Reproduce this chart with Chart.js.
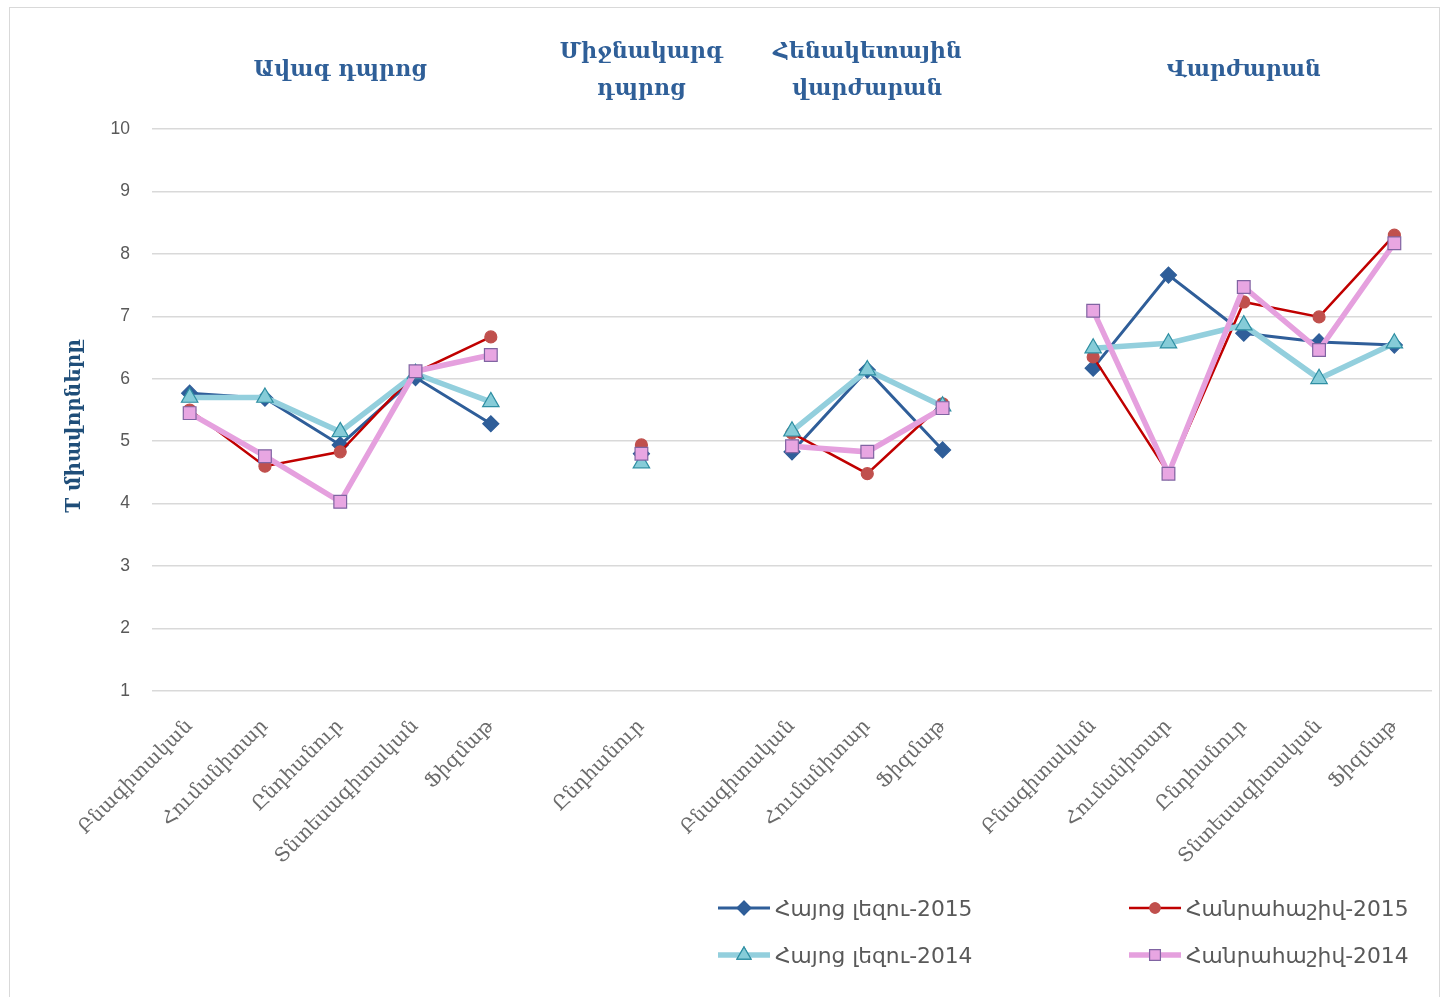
<!DOCTYPE html>
<html>
<head>
<meta charset="utf-8">
<script src="https://cdn.jsdelivr.net/npm/chart.js@4.4.1/dist/chart.umd.min.js"></script>
<style>
  html, body { margin: 0; padding: 0; background: #fff; }
  #wrap { position: relative; width: 1456px; height: 997px; overflow: hidden; }
  #frame { position: absolute; left: 9px; top: 7px; width: 1431px; height: 1010px; border: 1px solid #d9d9d9; box-sizing: border-box; pointer-events: none; }
  canvas { position: absolute; left: 0; top: 0; }
  .lg { position: absolute; display: flex; align-items: center; font-family: "DejaVu Sans", sans-serif; font-size: 21.8px; color: #595959; white-space: nowrap; }
  .lg canvas { position: static; margin-right: 3px; }
</style>
</head>
<body>
<div id="wrap">
  <div id="frame"></div>
  <canvas id="c" width="1456" height="997"></canvas>
  <div id="legend"></div>
</div>
<script>
// ---- data ----
const categories = [
  "Բնագիտական", "Հումանիտար", "Ընդհանուր", "Տնտեսագիտական", "Ֆիզմաթ",
  "",
  "Ընդհանուր",
  "",
  "Բնագիտական", "Հումանիտար", "Ֆիզմաթ",
  "",
  "Բնագիտական", "Հումանիտար", "Ընդհանուր", "Տնտեսագիտական", "Ֆիզմաթ"
];
const armenian2015 = [5.77, 5.69, 4.94, 6.02, 5.28, null, 4.8, null, 4.83, 6.14, 4.86, null, 6.17, 7.66, 6.73, 6.59, 6.54];
const algebra2015  = [5.5, 4.6, 4.83, 6.1, 6.67, null, 4.94, null, 5.13, 4.48, 5.6, null, 6.35, 4.48, 7.23, 6.99, 8.3];
const armenian2014 = [5.7, 5.7, 5.15, 6.08, 5.63, null, 4.65, null, 5.16, 6.14, 5.56, null, 6.49, 6.57, 6.86, 6.0, 6.57];
const algebra2014  = [5.45, 4.76, 4.03, 6.12, 6.38, null, 4.8, null, 4.92, 4.83, 5.53, null, 7.09, 4.48, 7.47, 6.46, 8.17];
const seriesNames = ["Հայոց լեզու-2015", "Հանրահաշիվ-2015", "Հայոց լեզու-2014", "Հանրահաշիվ-2014"];
const yTicks = [1, 2, 3, 4, 5, 6, 7, 8, 9, 10];
const yTitle = "T միավորները";
const groupHeaders = [
  { lines: ["Ավագ դպրոց"], center: 2 },
  { lines: ["Միջնակարգ", "դպրոց"], center: 6 },
  { lines: ["Հենակետային", "վարժարան"], center: 9 },
  { lines: ["Վարժարան"], center: 14 }
];

// ---- styles ----
const styles = [
  { line: "#2F5E99", fill: "#2F5E99", stroke: "#2F5E99", width: 3, point: "rectRot", r: 8, order: 4 },
  { line: "#C00000", fill: "#C0504D", stroke: "#C0504D", width: 2.5, point: "circle", r: 6, order: 3 },
  { line: "#93CFDD", fill: "#86CCD8", stroke: "#2F8FA3", width: 5.5, point: "triangle", r: 9.5, order: 2 },
  { line: "#E5A0DE", fill: "#E8A6E2", stroke: "#8064A2", width: 5.5, point: "rect", r: 9, order: 1 }
];
const dataArrays = [armenian2015, algebra2015, armenian2014, algebra2014];

const datasets = dataArrays.map((d, i) => ({
  label: seriesNames[i],
  data: d,
  borderColor: styles[i].line,
  borderWidth: styles[i].width,
  pointStyle: styles[i].point,
  pointRadius: styles[i].r,
  pointHoverRadius: styles[i].r,
  pointBackgroundColor: styles[i].fill,
  pointBorderColor: styles[i].stroke,
  pointBorderWidth: 1.2,
  spanGaps: false,
  tension: 0,
  order: styles[i].order,
  fill: false
}));

const headerPlugin = {
  id: "headers",
  afterDraw(chart) {
    const ctx = chart.ctx;
    const xs = chart.scales.x;
    ctx.save();
    ctx.fillStyle = "#2F5F98";
    ctx.font = "bold 22px 'DejaVu Serif', serif";
    ctx.textAlign = "center";
    ctx.textBaseline = "alphabetic";
    groupHeaders.forEach(h => {
      const x = xs.getPixelForValue(h.center);
      if (h.lines.length === 1) {
        ctx.fillText(h.lines[0], x, 76);
      } else {
        ctx.fillText(h.lines[0], x, 58);
        ctx.fillText(h.lines[1], x, 95);
      }
    });
    // y-axis title
    ctx.fillStyle = "#1F4E79";
    ctx.font = "bold 20px 'DejaVu Serif', serif";
    ctx.textBaseline = "middle";
    ctx.translate(75, 426);
    ctx.rotate(-Math.PI / 2);
    ctx.fillText(yTitle, 0, 0);
    ctx.restore();
  }
};

new Chart(document.getElementById("c"), {
  type: "line",
  data: { labels: categories, datasets },
  options: {
    responsive: false,
    animation: false,
    layout: { padding: { left: 62, right: 24, top: 129, bottom: 0 } },
    plugins: { legend: { display: false }, tooltip: { enabled: false } },
    scales: {
      x: {
        offset: true,
        grid: { display: false, drawTicks: false, offset: true },
        border: { display: false },
        ticks: {
          autoSkip: false, maxRotation: 45, minRotation: 45, padding: 24,
          color: "#6b6b6b",
          font: { family: "'DejaVu Serif', serif", size: 19.5 }
        },
        afterFit(s) { s.height = 306; }
      },
      y: {
        min: 1, max: 10,
        afterBuildTicks(s) { s.ticks = yTicks.map(v => ({ value: v })); },
        grid: { color: "#d9d9d9", lineWidth: 1.5, drawTicks: false },
        border: { display: false },
        ticks: {
          padding: 22, color: "#595959",
          font: { family: "'Liberation Sans', sans-serif", size: 17.5 }
        },
        title: { display: false },
        afterFit(s) { s.width = 90; }
      }
    }
  },
  plugins: [headerPlugin]
});

// ---- legend (HTML) ----
const legendPos = [
  { left: 716, top: 908 }, { left: 1127, top: 908 },
  { left: 716, top: 955 }, { left: 1127, top: 955 }
];
const legendOrder = [0, 1, 2, 3];
const lgRoot = document.getElementById("legend");
legendOrder.forEach((si, k) => {
  const st = styles[si];
  const item = document.createElement("div");
  item.className = "lg";
  item.style.left = legendPos[k].left + "px";
  item.style.top = (legendPos[k].top - 14) + "px";
  const cv = document.createElement("canvas");
  cv.width = 56; cv.height = 28;
  const c = cv.getContext("2d");
  c.strokeStyle = st.line; c.lineWidth = st.width;
  c.beginPath(); c.moveTo(2, 14); c.lineTo(54, 14); c.stroke();
  c.fillStyle = st.fill; c.strokeStyle = st.stroke; c.lineWidth = 1.2;
  Chart.helpers.drawPoint(c, { pointStyle: st.point, radius: st.r * 0.85, borderWidth: 1.2 }, 28, 14);
  c.fill(); c.stroke();
  item.appendChild(cv);
  const t = document.createElement("span");
  t.textContent = seriesNames[si];
  item.appendChild(t);
  lgRoot.appendChild(item);
});
</script>
</body>
</html>
